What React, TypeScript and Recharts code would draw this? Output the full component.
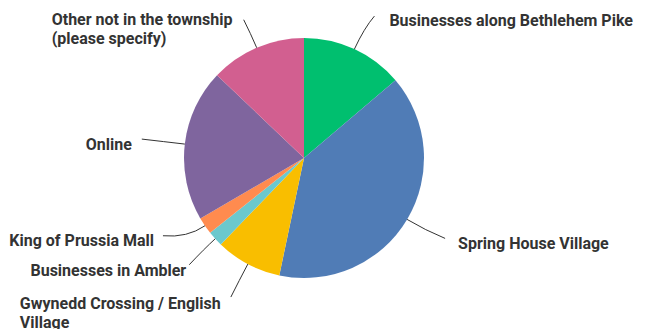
import React from "react";
import { PieChart, Pie, Cell } from "recharts";

const categories = [
  "Businesses along Bethlehem Pike",
  "Spring House Village",
  "Gwynedd Crossing / English Village",
  "Businesses in Ambler",
  "King of Prussia Mall",
  "Online",
  "Other not in the township (please specify)",
];
const values = [13.8, 39.5, 8.9, 2.1, 2.3, 20.5, 12.9];
const labelLines = [
  ["Businesses along Bethlehem Pike"],
  ["Spring House Village"],
  ["Gwynedd Crossing / English", "Village"],
  ["Businesses in Ambler"],
  ["King of Prussia Mall"],
  ["Online"],
  ["Other not in the township", "(please specify)"],
];
const colors = ["#00BF6F", "#507CB6", "#F9BE00", "#6BC8CD", "#FF8B4F", "#7F659E", "#D25F90"];

const data = categories.map((name, i) => ({ name, value: values[i] }));

// leader-line end offset from slice edge, text offset from line end, anchor
const layout = [
  { px: 20, py: -33, tx: 15, ty: 10, anchor: "start", bend: 0.6 },
  { px: 38, py: 19, tx: 13, ty: 11, anchor: "start", bend: 0.5 },
  { px: -17, py: 33, tx: -211, ty: 12, anchor: "start", bend: 0.5 },
  { px: -26, py: 26, tx: -3, ty: 11, anchor: "end", bend: 0.4 },
  { px: -42, py: 10, tx: -9, ty: 10, anchor: "end", bend: 0.5 },
  { px: -43, py: -5, tx: -10, ty: 11, anchor: "end", bend: 0.5 },
  { px: -13, py: -28, tx: -192, ty: 5, anchor: "start", bend: 0.5 },
];

const RAD = Math.PI / 180;

const renderLabel = (props: any) => {
  const { cx, cy, midAngle, outerRadius, index } = props;
  const cos = Math.cos(-midAngle * RAD);
  const sin = Math.sin(-midAngle * RAD);
  const ex = cx + outerRadius * cos;
  const ey = cy + outerRadius * sin;
  const L = layout[index];
  const px = ex + L.px;
  const py = ey + L.py;
  const d = Math.hypot(L.px, L.py) * L.bend;
  const qx = ex + d * cos;
  const qy = ey + d * sin;
  const lines = labelLines[index];
  return (
    <g key={`lbl-${index}`}>
      <path d={`M${ex},${ey} Q${qx},${qy} ${px},${py}`} stroke="#333" strokeWidth={1} fill="none" />
      <text
        x={px + L.tx}
        y={py + L.ty}
        textAnchor={L.anchor}
        fill="#333"
        style={{ fontFamily: "Roboto", fontSize: 16, fontWeight: 700 }}
      >
        {lines.map((t, j) => (
          <tspan key={j} x={px + L.tx} dy={j === 0 ? 0 : 19}>
            {t}
          </tspan>
        ))}
      </text>
    </g>
  );
};

export default function App() {
  return (
    <div style={{ position: "absolute", left: 0, top: 0, background: "#fff" }}>
      <PieChart width={647} height={329} margin={{ top: 0, right: 0, bottom: 0, left: 0 }}>
        <Pie
          data={data}
          dataKey="value"
          nameKey="name"
          cx={304}
          cy={158}
          outerRadius={120}
          startAngle={90}
          endAngle={-270}
          stroke="none"
          label={renderLabel}
          labelLine={false}
          isAnimationActive={false}
        >
          {data.map((_, i) => (
            <Cell key={i} fill={colors[i]} />
          ))}
        </Pie>
      </PieChart>
    </div>
  );
}
